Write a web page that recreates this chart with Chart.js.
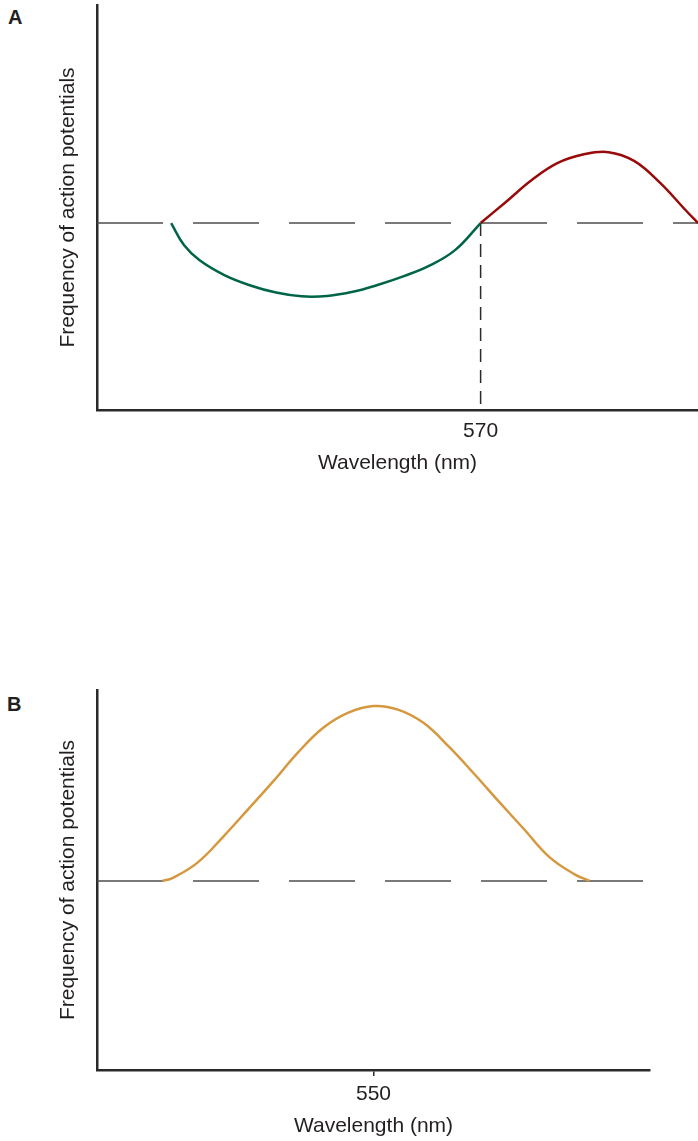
<!DOCTYPE html>
<html>
<head>
<meta charset="utf-8">
<script src="https://cdn.jsdelivr.net/npm/chart.js@4.4.1/dist/chart.umd.min.js"></script>
<style>
  html, body { margin: 0; padding: 0; background: #fff; }
  body { width: 698px; height: 1141px; position: relative; overflow: hidden;
         font-family: "Liberation Sans", Arial, sans-serif; }
  canvas.panel { position: absolute; left: 0; }
  .tag { position: absolute; font-weight: bold; font-size: 20px; line-height: 20px; color: #231f20; }
</style>
</head>
<body>
<div class="tag" style="left:8px; top:7px;">A</div>
<canvas id="chartA" class="panel" width="698" height="476" style="top:0px;"></canvas>
<div class="tag" style="left:7px; top:694px;">B</div>
<canvas id="chartB" class="panel" width="698" height="459" style="top:680px;"></canvas>

<script>
// ---- Panel A: opponent cell, inhibited by short and excited by long wavelengths ----
const aRangeNm = [420, 655];
const aRangeY = [-10, 11.66];
const aTickNm = [570];
const aCrossoverNm = 570;

const greenNm       = [449, 454, 460, 470, 480, 490, 500, 510, 520, 530, 540, 550, 560, 570];
const greenResponse = [0, -1.18, -1.98, -2.80, -3.34, -3.72, -3.92, -3.90, -3.68, -3.30, -2.84, -2.28, -1.45, 0];

const redNm       = [570, 580, 590, 600, 610, 620, 630, 640, 650, 655];
const redResponse = [0, 1.14, 2.30, 3.20, 3.66, 3.79, 3.32, 2.17, 0.71, 0];

// ---- Panel B: non-opponent cell, excited across the spectrum ----
const bRangeNm = [440, 660];
const bRangeY = [-10, 10.1];
const bTickNm = [550];

const orangeNm       = [466, 470, 480, 490, 500, 510, 520, 530, 540, 550, 560, 570, 580, 590, 600, 610, 620, 630, 636];
const orangeResponse = [0, 0.15, 0.97, 2.31, 3.77, 5.25, 6.80, 8.10, 8.90, 9.25, 9.05, 8.35, 7.10, 5.67, 4.18, 2.72, 1.26, 0.35, 0];

const xTitle = 'Wavelength (nm)';
const yTitle = 'Frequency of action potentials';

// ---- styling ----
const TEXT = '#231f20';
const AXIS = '#2a2a2a';
const FONT = { family: '"Liberation Sans", Arial, sans-serif', size: 21 };

function pts(xs, ys) { return xs.map((x, i) => ({ x: x, y: ys[i] })); }

function curve(xs, ys, color) {
  return {
    data: pts(xs, ys),
    borderColor: color,
    borderWidth: 2.5,
    pointRadius: 0,
    fill: false,
    tension: 0.4
  };
}

function baseline(range) {
  return {
    data: pts(range, [0, 0]),
    borderColor: '#4d4d4d',
    borderWidth: 1.5,
    borderDash: [66, 30],
    pointRadius: 0,
    fill: false
  };
}

function makeChart(id, opts) {
  return new Chart(document.getElementById(id), {
    type: 'line',
    data: { datasets: opts.datasets },
    options: {
      responsive: false,
      animation: false,
      devicePixelRatio: 1,
      layout: { padding: opts.padding },
      plugins: { legend: { display: false }, tooltip: { enabled: false } },
      scales: {
        x: {
          type: 'linear',
          min: opts.rangeNm[0],
          max: opts.rangeNm[1],
          afterBuildTicks: s => { s.ticks = opts.ticks.map(v => ({ value: v })); },
          afterFit: s => { s.height = opts.xHeight; },
          grid: opts.tickMark
            ? { display: true, drawOnChartArea: false, drawTicks: true, tickLength: 6, color: AXIS, lineWidth: 1.5 }
            : { display: false, drawTicks: false },
          border: { display: true, color: AXIS, width: 2.5 },
          ticks: { padding: opts.tickPad, color: TEXT, font: FONT, maxRotation: 0 },
          title: { display: true, text: xTitle, color: TEXT, font: FONT, padding: 0 }
        },
        y: {
          type: 'linear',
          min: opts.rangeY[0],
          max: opts.rangeY[1],
          afterFit: s => { s.width = 97; },
          grid: { display: false, drawTicks: false },
          border: { display: true, color: AXIS, width: 2.5 },
          ticks: { display: false },
          title: { display: true, text: yTitle, color: TEXT, font: FONT, padding: { top: 55.5, bottom: 0 } }
        }
      }
    }
  });
}

makeChart('chartA', {
  rangeNm: aRangeNm, rangeY: aRangeY, ticks: aTickNm,
  padding: { top: 5, right: 0, bottom: 0, left: 0 },
  xHeight: 66, tickPad: 9, tickMark: false,
  datasets: [
    curve(greenNm, greenResponse, '#006548'),
    curve(redNm, redResponse, '#990a0a'),
    {
      // drop line from the crossover point to the wavelength axis
      data: pts([aCrossoverNm, aCrossoverNm], [0, aRangeY[0]]),
      borderColor: '#2a2a2a',
      borderWidth: 1.5,
      borderDash: [13, 8],
      pointRadius: 0,
      fill: false
    },
    baseline(aRangeNm)
  ]
});

makeChart('chartB', {
  rangeNm: bRangeNm, rangeY: bRangeY, ticks: bTickNm,
  padding: { top: 10, right: 48, bottom: 0, left: 0 },
  xHeight: 69, tickPad: 6, tickMark: true,
  datasets: [
    curve(orangeNm, orangeResponse, '#d6983f'),
    baseline(bRangeNm)
  ]
});
</script>
</body>
</html>
